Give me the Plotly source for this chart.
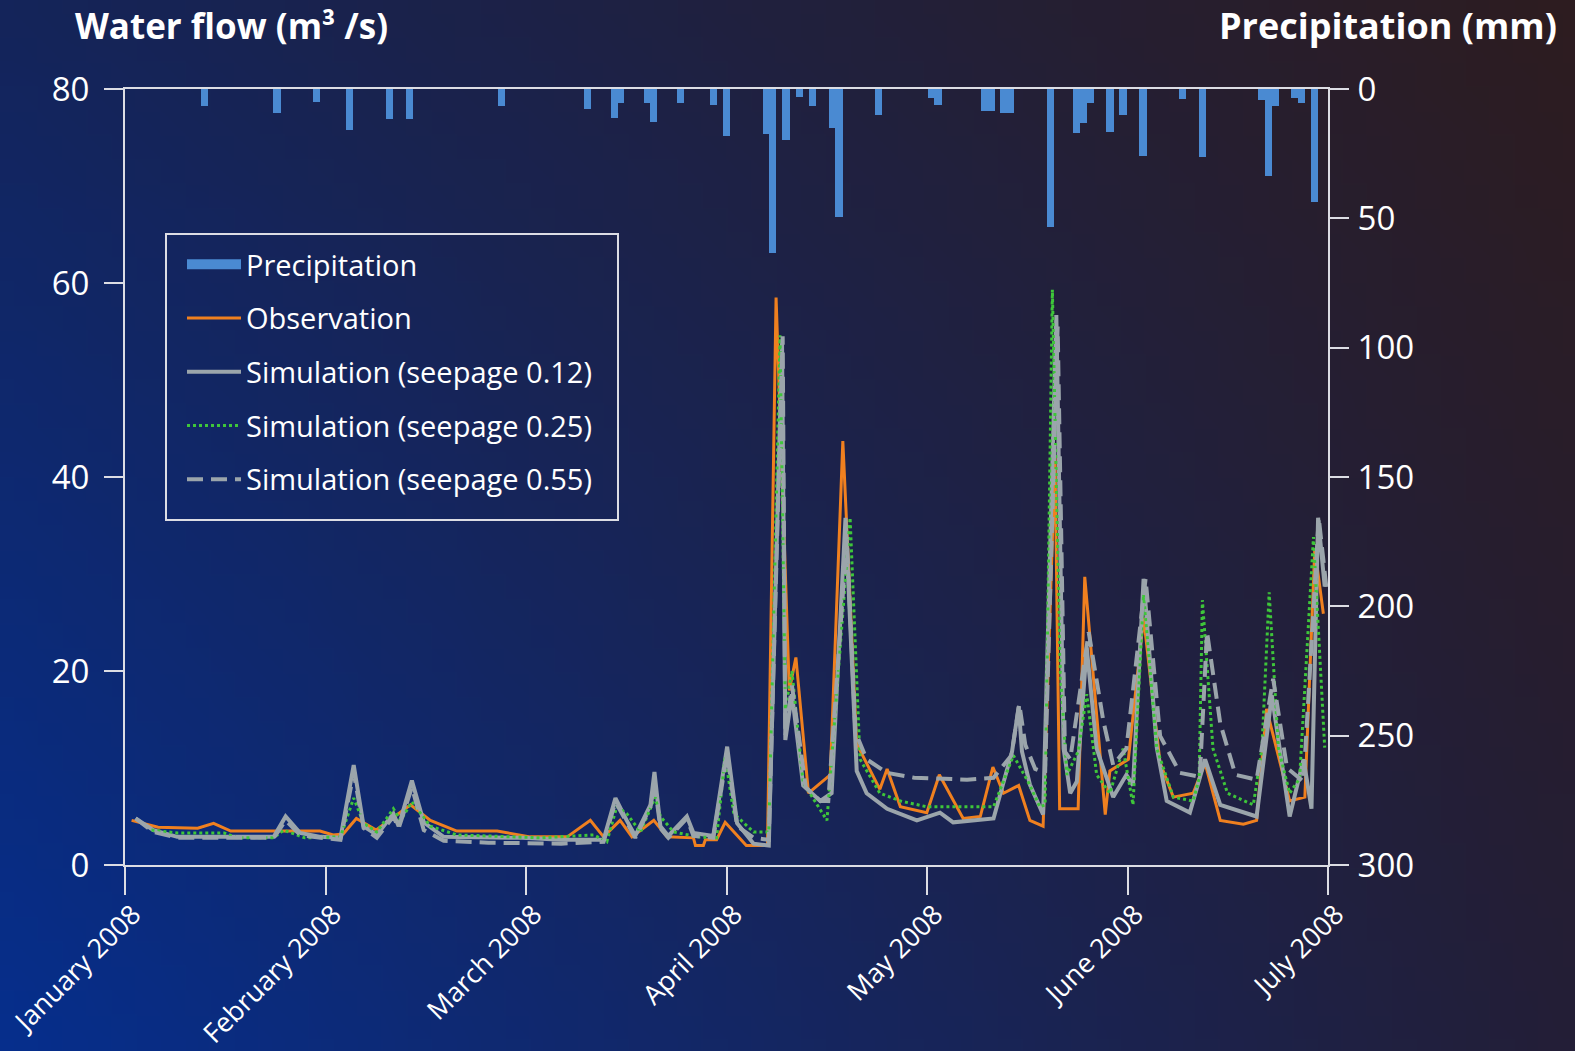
import base64
import struct
import zlib

import pandas as pd
import plotly.graph_objects as go

# ---------------- data ----------------
START = pd.Timestamp("2008-01-01")
SPAN_DAYS = 182  # 1 Jan 2008 .. 1 Jul 2008

precip_day = [12, 23, 29, 34, 40, 43, 57, 70, 74, 75, 79, 80, 84, 89, 91, 97, 98, 100, 102,
              104, 107, 108, 114, 122, 123, 130, 131, 133, 134, 140, 144, 145, 146, 149, 151,
              154, 160, 163, 172, 173, 174, 177, 178, 180]
precip_mm = [6.7, 9.2, 5.2, 16.0, 11.5, 11.5, 6.7, 7.7, 11.2, 5.4, 5.4, 12.9, 5.4, 6.2, 18.0,
             17.4, 63.5, 19.6, 3.2, 6.6, 15.0, 49.6, 9.9, 3.3, 6.2, 8.4, 8.4, 9.4, 9.4, 53.4,
             17.0, 13.1, 5.4, 16.6, 9.9, 26.0, 3.8, 26.4, 4.1, 33.5, 6.5, 3.3, 5.4, 43.8]

obs_day = [1, 5, 11, 13.4, 16, 29.5, 31.5, 33, 35, 38, 43.2, 46.2, 50.2, 56.3, 61.3, 66.9,
           70.4, 72.4, 74.9, 76.7, 80, 82, 86, 86.3, 87.5, 87.8, 89.5, 90.8, 94, 97.2, 98.5,
           100.5, 101.5, 103.4, 106.7, 108.6, 110.7, 114.2, 115.3, 117.3, 121.3, 123.2, 126.8,
           129.4, 131.3, 132.9, 135.2, 136.9, 138.9, 140.7, 141.4, 144.2, 145.2, 148.3, 149,
           151.8, 154.1, 156.6, 158.6, 161.6, 163.4, 165.7, 169.2, 171.2, 172.7, 176.2, 178.5,
           180, 181.3]
obs_val = [4.6, 3.9, 3.8, 4.3, 3.5, 3.5, 3.1, 3.2, 4.8, 3.6, 6.2, 4.6, 3.5, 3.5, 2.9, 2.9,
           4.6, 2.9, 4.6, 2.9, 4.6, 2.9, 2.8, 2.0, 2.0, 2.6, 2.6, 4.4, 2.0, 2.0, 58.5,
           18.0, 21.4, 7.4, 9.3, 43.7, 12.5, 7.8, 9.9, 6.0, 5.4, 9.3, 4.8,
           5.0, 10.1, 7.4, 8.2, 4.6, 4.0, 42.0, 5.8, 5.8, 29.7, 5.2, 9.7,
           10.9, 25.5, 10.5, 7.0, 7.4, 10.5, 4.6, 4.2, 4.6, 16.1, 6.6, 7.0,
           32.6, 25.9]

s12_day = [1.6, 4.3, 7.9, 22.5, 24.3, 26.5, 29.6, 32.6, 34.6, 36.1, 38.1, 40.6, 41.4, 43.4,
           45.2, 48.2, 60, 66, 72.4, 74.2, 75.9, 77.2, 79.5, 80.1, 81, 82.2, 85, 86, 89, 91.1,
           92.6, 95.1, 97.4, 99.4, 99.9, 100.9, 102.6, 105.2, 106.9, 109, 110.7, 112.2, 115.3,
           119.8, 123.3, 125.3, 131.4, 134.2, 135.2, 135.7, 136.9, 138.9, 140.9, 142, 143, 144,
           145.5, 147, 149.5, 151.5, 152.5, 154.1, 156.1, 157.6, 161.1, 163.4, 165.7, 171.2,
           173.5, 176.2, 178.3, 179.5, 180.5, 181.5]
s12_val = [4.8, 3.6, 2.9, 2.9, 5.0, 3.3, 2.9, 2.8, 10.3, 4.0, 3.1, 5.3, 4.0, 8.7,
           4.4, 2.9, 2.8, 2.6, 2.6, 6.9, 4.6, 3.0, 6.2, 9.6, 4.0, 3.0, 5.0, 3.3, 3.0, 12.2,
           4.3, 2.2, 2.0, 54.0, 12.9, 17.6, 8.2, 6.6, 7.4, 35.8, 9.7, 7.4, 5.8,
           4.6, 5.4, 4.4, 4.8, 11.7, 16.3, 11.7, 8.3, 5.2, 56.7, 12.0, 7.4, 8.6,
           22.4, 12.0, 7.0, 9.3, 8.2, 29.5, 12.1, 6.6, 5.4, 10.9, 6.2, 5.0,
           17.5, 5.0, 10.9, 5.8, 35.8, 28.7]

s25_day = [4, 8, 15, 17, 22.5, 24, 27.2, 32.6, 34.6, 36.1, 38.1, 40.6, 41.7, 43.4, 46.2, 50.2,
           63, 70.9, 72.9, 74.4, 75.9, 78, 80.2, 81, 83, 86.7, 89.5, 90.8, 92.1, 95.1, 97.4,
           99.1, 99.9, 100.9, 102.6, 106.2, 109.7, 111.2, 114.2, 117.3, 121.3, 131.4, 134.4,
           136.7, 138.4, 139.2, 140.3, 141.5, 142.5, 144.2, 145.5, 147, 149, 151, 152.5, 154.1,
           156.1, 158.6, 161.6, 162.5, 163.0, 164.6, 166.8, 170.7, 172, 173.1, 174.5, 176.2,
           177.7, 179.8, 181.5]
s25_val = [3.6, 3.3, 3.3, 2.8, 2.8, 3.6, 2.8, 2.9, 6.9, 4.3, 3.4, 5.8, 4.6, 6.5, 4.0, 3.1,
           2.8, 3.1, 2.4, 6.0, 5.3, 3.4, 7.0, 5.0, 3.4, 2.9, 2.8, 11.2, 5.3, 3.4, 3.4,
           54.6, 16.1, 20.0, 8.5, 4.6, 35.8, 10.9, 7.4, 6.6, 6.0, 6.0, 11.3,
           8.5, 6.0, 6.2, 59.3, 20.0, 9.3, 11.7, 17.6, 9.3, 7.4, 12.0, 6.2, 27.9,
           12.0, 7.0, 6.6, 8.9, 27.3, 12.0, 7.4, 6.2, 12.0, 28.1, 12.0, 7.4,
           8.9, 33.8, 12.1]

s55_day = [1.6, 4.3, 8, 22.5, 24.3, 26.5, 29.6, 32.6, 34.6, 36.1, 38.1, 40.6, 41.4, 43.4, 45.2,
           48.2, 55, 66, 72.4, 74.2, 75.9, 77.2, 79.5, 80.1, 81, 82.2, 85, 86, 89, 91.1, 92.6,
           95.1, 97.4, 99.5, 99.9, 100.9, 103, 105.2, 106.4, 109.2, 110.5, 112.2, 115.3, 119.4,
           127.4, 131.4, 134.1, 135.3, 136.2, 137.7, 139.2, 141.1, 142.2, 143, 145.8, 148,
           149.5, 151.5, 154.4, 156.6, 159.6, 162.6, 163.7, 165.7, 168, 171.2, 173.7, 175.8,
           178.3, 180.6, 181.8]
s55_val = [4.8, 3.4, 2.8, 2.8, 4.6, 3.1, 2.8, 2.6, 9.5, 3.8, 2.8, 5.0, 3.8, 8.0, 3.6,
           2.5, 2.3, 2.2, 2.4, 6.5, 4.4, 2.8, 6.0, 8.5, 3.8, 2.8, 4.8, 3.0, 2.8, 11.5, 4.0,
           2.8, 2.6, 54.5, 13.3, 18.5, 8.0, 6.6, 6.6, 33.8, 13.7, 10.9, 9.5, 9.0,
           8.8, 9.0, 11.3, 16.6, 12.4, 9.9, 9.5, 55.5, 11.7, 10.9, 24.0, 14.9,
           10.3, 12.0, 29.5, 13.3, 9.5, 9.1, 24.0, 14.6, 9.3, 8.8, 19.2, 10.0,
           8.6, 35.8, 28.3]

month_labels = ["January 2008", "February 2008", "March 2008", "April 2008",
                "May 2008", "June 2008", "July 2008"]
flow_ticks = [0, 20, 40, 60, 80]
precip_ticks = [0, 50, 100, 150, 200, 250, 300]


def to_dates(days):
    return [START + pd.Timedelta(days=d) for d in days]


# the reference spaces its month ticks evenly across the half year
n_int = len(month_labels) - 1
month_ticks = to_dates([SPAN_DAYS * k / n_int for k in range(len(month_labels))])


# ---------------- background gradient (generated PNG) ----------------
def gradient_uri(w, h, tl, tr, bl, br):
    rows = []
    for j in range(h):
        v = j / (h - 1)
        row = bytearray([0])
        for i in range(w):
            u = i / (w - 1)
            for k in range(3):
                top = tl[k] * (1 - u) + tr[k] * u
                bot = bl[k] * (1 - u) + br[k] * u
                row.append(int(round(top * (1 - v) + bot * v)))
        rows.append(bytes(row))
    raw = b"".join(rows)

    def chunk(t, d):
        return struct.pack(">I", len(d)) + t + d + struct.pack(">I", zlib.crc32(t + d) & 0xffffffff)

    png = (b"\x89PNG\r\n\x1a\n"
           + chunk(b"IHDR", struct.pack(">IIBBBBB", w, h, 8, 2, 0, 0, 0))
           + chunk(b"IDAT", zlib.compress(raw))
           + chunk(b"IEND", b""))
    return "data:image/png;base64," + base64.b64encode(png).decode()


bg_uri = gradient_uri(64, 43, (20, 36, 90), (45, 28, 32), (6, 46, 140), (35, 30, 55))

# ---------------- figure ----------------
W, H = 1575, 1051
ML, MR, MT, MB = 125, 247, 89, 186
PW, PH = W - ML - MR, H - MT - MB

FONT = "Open Sans"
AXC = "#dcdde4"
BLUE = "#4a8ad2"
ORANGE = "#f0801f"
GREY = "#9ba5ab"
GREEN = "#3ec63a"
DAY_MS = 86400000


def px_x(x):
    return (x - ML) / PW


def px_y(y):
    return 1 - (y - MT) / PH


fig = go.Figure()

fig.add_trace(go.Bar(x=to_dates(precip_day), y=precip_mm, yaxis="y2", width=DAY_MS * 1.1,
                     marker=dict(color=BLUE, line=dict(width=0)), showlegend=False,
                     name="Precipitation"))

fig.add_trace(go.Scatter(x=[None], y=[None], mode="lines", name="Precipitation",
                         line=dict(color=BLUE, width=16), legendgroup="p"))
fig.add_trace(go.Scatter(x=to_dates(obs_day), y=obs_val, mode="lines", name="Observation",
                         line=dict(color=ORANGE, width=3), legendgroup="o"))
fig.add_trace(go.Scatter(x=to_dates(s12_day), y=s12_val, mode="lines",
                         name="Simulation (seepage 0.12)",
                         line=dict(color=GREY, width=4), legendgroup="a"))
fig.add_trace(go.Scatter(x=to_dates(s25_day), y=s25_val, mode="lines",
                         name="Simulation (seepage 0.25)",
                         line=dict(color=GREEN, width=3, dash="3px,3px"), legendgroup="b"))
fig.add_trace(go.Scatter(x=to_dates(s55_day), y=s55_val, mode="lines",
                         name="Simulation (seepage 0.55)",
                         line=dict(color=GREY, width=4, dash="16px,8px"), legendgroup="c"))

axis_common = dict(showgrid=False, zeroline=False, automargin=False, tickwidth=2,
                   tickcolor=AXC, showline=True, linecolor=AXC, linewidth=2, ticks="outside")

fig.update_layout(
    template="none",
    width=W, height=H,
    margin=dict(l=ML, r=MR, t=MT, b=MB, pad=0, autoexpand=False),
    paper_bgcolor="#17224f",
    plot_bgcolor="rgba(0,0,0,0)",
    font=dict(family=FONT, color="white"),
    showlegend=True,
    bargap=0,
    images=[dict(source=bg_uri, xref="paper", yref="paper",
                 x=-ML / PW, y=1 + MT / PH, sizex=W / PW, sizey=H / PH,
                 xanchor="left", yanchor="top", sizing="stretch", layer="below")],
    xaxis=dict(range=[START, START + pd.Timedelta(days=SPAN_DAYS)],
               tickvals=month_ticks, ticktext=month_labels,
               tickangle=-45, ticklen=28, mirror=True, ticklabeloverflow="allow",
               ticklabelshift=8, ticklabelstandoff=-7,
               tickfont=dict(size=27, color="white", family=FONT), **axis_common),
    yaxis=dict(range=[0, 80], tickvals=flow_ticks, ticklen=19, ticklabelstandoff=8,
               tickfont=dict(size=33, color="white", family=FONT), **axis_common),
    yaxis2=dict(range=[300, 0], tickvals=precip_ticks, overlaying="y", side="right",
                ticklen=19, ticklabelstandoff=2,
                tickfont=dict(size=33, color="white", family=FONT), **axis_common),
    legend=dict(x=px_x(182), y=px_y(239), xanchor="left", yanchor="top",
                bgcolor="rgba(0,0,0,0)", borderwidth=0,
                font=dict(size=29, color="white", family=FONT),
                itemwidth=54, tracegroupgap=13, traceorder="grouped"),
    shapes=[dict(type="rect", xref="paper", yref="paper",
                 x0=px_x(166), x1=px_x(618), y0=px_y(520), y1=px_y(234),
                 line=dict(color=AXC, width=2), fillcolor="rgba(0,0,0,0)", layer="above")],
    annotations=[
        dict(text="<b>Water flow (m³ /s)</b>", xref="paper", yref="paper",
             x=px_x(73), y=px_y(25), xanchor="left", yanchor="middle",
             showarrow=False, font=dict(size=35, color="white", family=FONT)),
        dict(text="<b>Precipitation (mm)</b>", xref="paper", yref="paper",
             x=px_x(1559), y=px_y(25), xanchor="right", yanchor="middle",
             showarrow=False, font=dict(size=36, color="white", family=FONT)),
    ],
)

fig.write_html("out.html")
